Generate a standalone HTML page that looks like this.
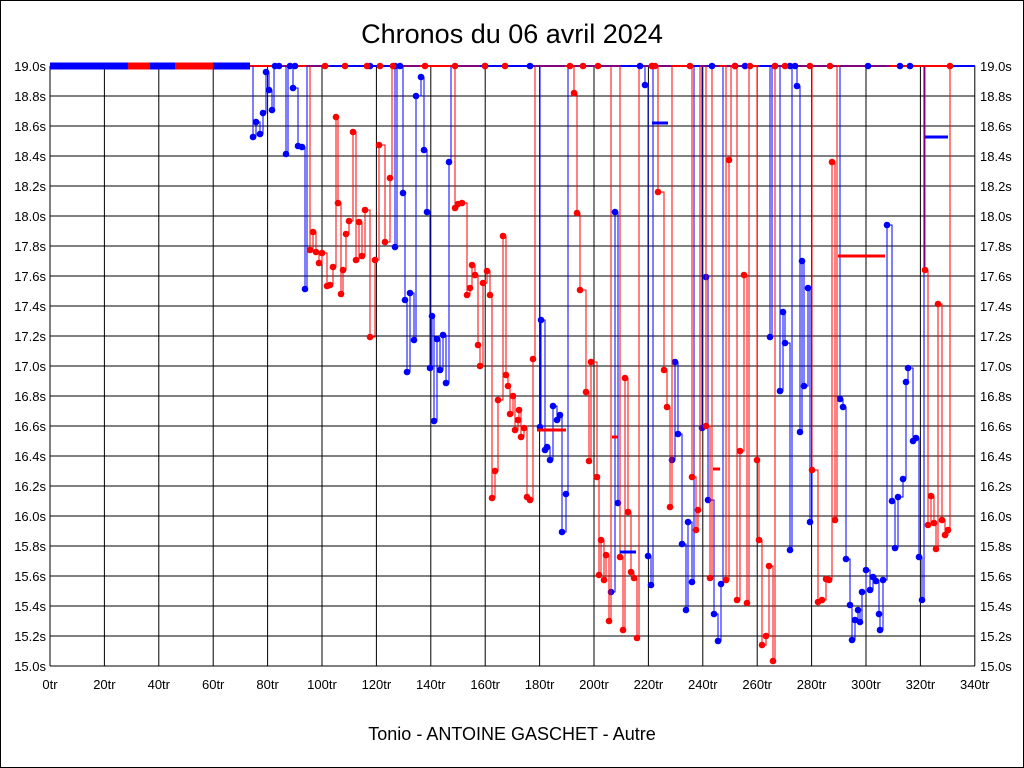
<!DOCTYPE html><html><head><meta charset="utf-8"><style>
body{margin:0;background:#fff}
svg{display:block;font-family:"Liberation Sans",sans-serif}
</style></head><body>
<svg id="s" width="1024" height="768" xmlns="http://www.w3.org/2000/svg">
<rect x="0.5" y="0.5" width="1023" height="767" fill="#fff" stroke="#000"/>
<text x="512" y="43" font-size="27" text-anchor="middle">Chronos du 06 avril 2024</text>
<text x="512" y="740" font-size="18" text-anchor="middle">Tonio - ANTOINE GASCHET - Autre</text>
<g id="grid"></g><g id="data"></g>
</svg>
<script>
const NS="http://www.w3.org/2000/svg";
const g=document.getElementById('grid'),d=document.getElementById('data');
function el(p,t,a,txt){const e=document.createElementNS(NS,t);for(const k in a)e.setAttribute(k,a[k]);if(txt!==undefined)e.textContent=txt;p.appendChild(e);return e;}
const X=tr=>50+tr*2.72,Y=v=>66+(19-v)*150;
for(let i=0;i<=17;i++){const x=X(i*20);el(g,'line',{x1:x,x2:x,y1:66,y2:666,stroke:'#000'});
el(g,'text',{x:x,y:689,'font-size':13,'text-anchor':'middle'},(i*20)+'tr');}
for(let i=0;i<=20;i++){const v=19-i*0.2,y=Y(v);el(g,'line',{x1:50,x2:975,y1:y,y2:y,stroke:'#000'});
el(g,'text',{x:46,y:y+5,'font-size':13,'text-anchor':'end'},v.toFixed(1)+'s');
el(g,'text',{x:980,y:y+5,'font-size':13},v.toFixed(1)+'s');}
const blue=[[253,137],[256,122],[260,134],[263,113],[266,72],[269,90],[272,110],[286,154],[293,88],[298,146],[302,147],[305,289],[395,247],[403,193],[405,300],[407,372],[410,293],[414,340],[416,96],[421,77],[424,150],[427,212],[430,368],[432,316],[434,421],[437,339],[440,370],[443,335],[446,383],[449,162],[540,427],[541,320],[545,450],[547,447],[550,460],[553,406],[557,420],[560,415],[562,532],[566,494],[611,592],[615,212],[618,503],[645,85],[648,556],[651,585],[672,460],[675,362],[678,434],[682,544],[686,610],[688,522],[692,582],[702,428],[706,277],[708,500],[714,614],[718,641],[721,584],[770,337],[780,391],[783,312],[785,343],[790,550],[797,86],[800,432],[802,261],[804,386],[808,288],[810,522],[840,399],[843,407],[846,559],[850,605],[852,640],[855,620],[858,610],[860,622],[862,592],[866,570],[870,590],[873,577],[876,581],[879,614],[880,630],[883,580],[887,225],[892,501],[895,548],[898,497],[903,479],[906,382],[908,368],[913,441],[916,438],[919,557],[922,600]];
const red=[[310,250],[313,232],[316,252],[319,263],[322,253],[327,286],[330,285],[333,267],[336,117],[338,203],[341,294],[343,270],[346,234],[349,221],[353,132],[356,260],[359,222],[362,256],[365,210],[370,337],[375,260],[379,145],[385,242],[390,178],[455,208],[458,204],[462,203],[467,295],[470,288],[472,265],[475,275],[478,345],[480,366],[483,283],[487,271],[490,295],[492,498],[495,471],[498,400],[503,236],[506,375],[508,386],[510,414],[513,396],[515,430],[518,420],[519,410],[521,437],[524,428],[527,497],[530,500],[533,359],[574,93],[577,213],[580,290],[586,392],[589,461],[591,362],[597,477],[599,575],[601,540],[604,580],[606,555],[609,621],[620,557],[623,630],[625,378],[628,512],[631,572],[634,578],[637,638],[658,192],[664,370],[667,407],[670,507],[692,477],[696,530],[698,510],[706,426],[710,578],[726,580],[729,160],[737,600],[740,451],[744,275],[747,603],[757,460],[759,540],[762,645],[766,636],[769,566],[773,661],[812,470],[818,602],[822,600],[826,579],[829,580],[832,162],[835,520],[925,270],[928,525],[931,496],[934,523],[936,549],[938,304],[942,520],[945,535],[948,530]];
const topB=[275,279,290,295,370,395,400,485,530,640,652,712,735,745,775,790,795,868,900,910];
const topR=[325,345,367,380,393,425,455,485,505,570,583,598,652,655,690,735,750,775,785,810,830,950];
// top line
el(d,'line',{x1:50,x2:975,y1:66,y2:66,stroke:'#00f','stroke-width':2});
[[250,330,'#f00'],[330,420,'#00f'],[420,480,'#f00'],[480,530,'#00f'],[565,610,'#f00'],[650,690,'#f00'],[720,760,'#f00'],[760,810,'#00f'],[810,840,'#f00'],[890,950,'#f00']].forEach(s=>el(d,'line',{x1:s[0],x2:s[1],y1:66,y2:66,stroke:s[2],'stroke-width':2}));
el(d,'line',{x1:50,x2:250,y1:66,y2:66,stroke:'#00f','stroke-width':7});
[[128,150],[175,213]].forEach(s=>el(d,'line',{x1:s[0],x2:s[1],y1:66,y2:66,stroke:'#f00','stroke-width':7}));
function series(pts,c){let p='M'+pts[0][0]+',66';let px=pts[0][0],py=66;
pts.forEach((q,i)=>{const[x,y]=q;if(x-px>6&&i>0){p+=` L${px+2},${py} L${px+2},66 L${x},66`;py=66;}
p+=` L${x},${py} L${x},${y}`;px=x;py=y;});p+=` L${px+2},${py} L${px+2},66`;
el(d,'path',{d:p,fill:'none',stroke:c,'stroke-width':1});
pts.forEach(q=>el(d,'circle',{cx:q[0],cy:q[1],r:3.3,fill:c}));}
series(blue,'#00f');series(red,'#f00');
topB.forEach(x=>el(d,'circle',{cx:x,cy:66,r:3.3,fill:'#00f'}));
topR.forEach(x=>el(d,'circle',{cx:x,cy:66,r:3.3,fill:'#f00'}));
[[537,566,430,'#f00'],[838,885,256,'#f00'],[620,636,552,'#00f'],[652,668,123,'#00f'],[713,720,469,'#f00'],[612,618,437,'#f00'],[925,948,137,'#00f']].forEach(s=>el(d,'line',{x1:s[0],x2:s[1],y1:s[2],y2:s[2],stroke:s[3],'stroke-width':3}));
</script>
</body></html>
